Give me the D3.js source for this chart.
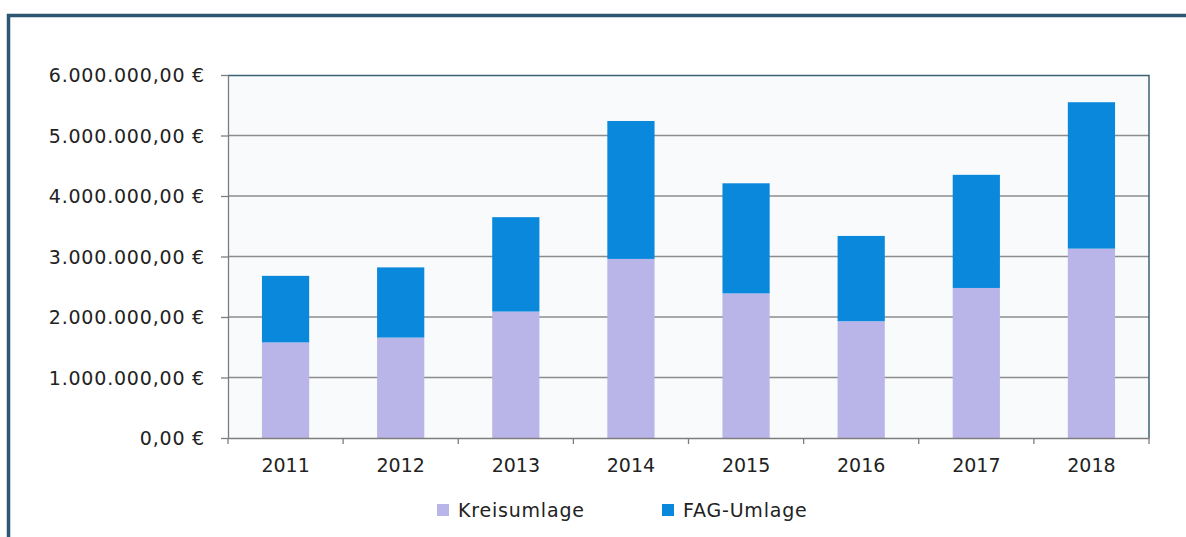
<!DOCTYPE html>
<html>
<head>
<meta charset="utf-8">
<script src="https://cdn.jsdelivr.net/npm/d3@7"></script>
<style>
  body { margin: 0; background: #fff; }
  svg { display: block; }
  text { font-family: "DejaVu Sans", sans-serif; fill: #222; }
</style>
</head>
<body>
<script>
// data
const years = ["2011", "2012", "2013", "2014", "2015", "2016", "2017", "2018"];
const kreisumlage = [1580000, 1660000, 2090000, 2960000, 2390000, 1930000, 2480000, 3130000];
const fagUmlage = [1100000, 1160000, 1560000, 2280000, 1820000, 1410000, 1870000, 2420000];
const yTicks = [0, 1000000, 2000000, 3000000, 4000000, 5000000, 6000000];
const seriesNames = ["Kreisumlage", "FAG-Umlage"];
const colors = ["#b9b5e8", "#0a88dc"];

const W = 1186, H = 537;
const margin = {top: 75, left: 228, right: 37, bottom: 99};
const width = W - margin.left - margin.right;
const height = H - margin.top - margin.bottom;

const svg = d3.select("body").append("svg")
  .attr("width", W)
  .attr("height", H);

// scanned frame
svg.append("path")
  .attr("d", `M8.5,${H} V15.5 H${W}`)
  .attr("fill", "none")
  .attr("stroke", "#2d5672")
  .attr("stroke-width", 3.5);

const g = svg.append("g")
  .attr("transform", `translate(${margin.left}, ${margin.top})`);

const x = d3.scaleBand()
  .domain(years)
  .range([0, width])
  .paddingInner(0.59)
  .paddingOuter(0.295);

const y = d3.scaleLinear()
  .domain([0, 6000000])
  .range([height, 0]);

// plot background
g.append("rect")
  .attr("width", width)
  .attr("height", height)
  .attr("fill", "#f8fafb");

// gridlines
g.selectAll(".grid")
  .data(yTicks.slice(1, -1))
  .enter().append("line")
  .attr("x1", 0).attr("x2", width)
  .attr("y1", d => y(d)).attr("y2", d => y(d))
  .attr("stroke", "#8c8c8c")
  .attr("stroke-width", 1.3);

// stacked bars
const rows = years.map((yr, i) => ({year: yr, Kreisumlage: kreisumlage[i], "FAG-Umlage": fagUmlage[i]}));
const stack = d3.stack().keys(seriesNames)(rows);

g.selectAll(".series")
  .data(stack)
  .enter().append("g")
  .attr("fill", (d, i) => colors[i])
  .selectAll("rect")
  .data(d => d)
  .enter().append("rect")
  .attr("x", d => x(d.data.year))
  .attr("width", x.bandwidth())
  .attr("y", d => y(d[1]))
  .attr("height", d => y(d[0]) - y(d[1]));

// plot border top/right
g.append("path")
  .attr("d", `M0,0.5 H${width} V${height}`)
  .attr("fill", "none")
  .attr("stroke", "#3a6276")
  .attr("stroke-width", 1.5);

// y axis
const fmt = d3.formatLocale({decimal: ",", thousands: ".", grouping: [3], currency: ["", " €"]}).format(",.2f");
const yAxis = g.append("g")
  .call(d3.axisLeft(y).tickValues(yTicks).tickSize(7).tickSizeOuter(0).tickFormat(d => fmt(d) + " €"))
  .attr("class", "axis");
yAxis.selectAll("text")
  .attr("font-size", 19)
  .attr("letter-spacing", 0.8)
  .attr("x", -23)
  .attr("dy", "0.35em");
yAxis.selectAll("line, path").attr("stroke", "#7d7d7d").attr("stroke-width", 1.3);

// x axis
const xAxis = g.append("g")
  .attr("transform", `translate(0, ${height})`)
  .call(d3.axisBottom(x).tickSize(0))
  .attr("class", "axis");
xAxis.select("path").attr("stroke", "#7d7d7d").attr("stroke-width", 1.3);
xAxis.selectAll("text").attr("font-size", 19).attr("y", 21);
// category separator ticks
xAxis.selectAll(".sep")
  .data(d3.range(years.length + 1))
  .enter().append("line")
  .attr("x1", i => i * x.step()).attr("x2", i => i * x.step())
  .attr("y1", 0).attr("y2", 6)
  .attr("stroke", "#7d7d7d")
  .attr("stroke-width", 1.3);

// legend
const legendX = [437, 662];
const legend = svg.selectAll(".legend")
  .data(seriesNames)
  .enter().append("g")
  .attr("transform", (d, i) => `translate(${legendX[i]}, 510)`);
legend.append("rect")
  .attr("x", 0).attr("y", -6)
  .attr("width", 12).attr("height", 12)
  .attr("fill", (d, i) => colors[i]);
legend.append("text")
  .attr("x", 21).attr("dy", "0.35em")
  .attr("font-size", 19)
  .attr("letter-spacing", 0.8)
  .text(d => d);
</script>
</body>
</html>
